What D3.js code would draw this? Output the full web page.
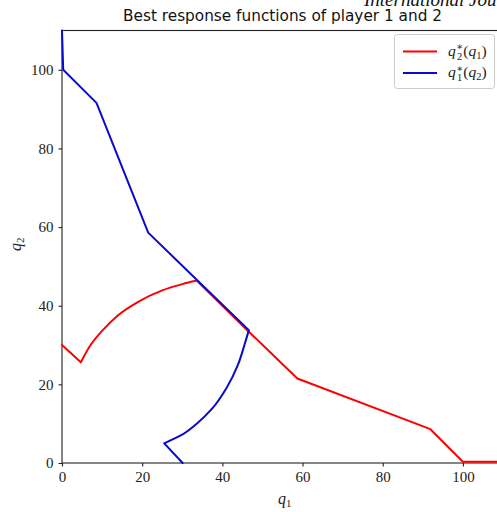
<!DOCTYPE html>
<html>
<head>
<meta charset="utf-8">
<script src="https://cdn.jsdelivr.net/npm/d3@7"></script>
<style>
  html, body { margin: 0; padding: 0; background: #fff; overflow: hidden; }
  svg { display: block; }
</style>
</head>
<body>
<div id="chart"></div>
<script>
// q2*(q1): best response of player 2
const redQ1 = [0, 4.7, 7.0, 10.0, 14.0, 19.0, 25.0, 30.0, 33.6, 46.6, 58.7, 91.9, 100.0, 110];
const redQ2 = [30, 25.6, 29.8, 33.6, 37.6, 41.0, 43.9, 45.5, 46.4, 33.4, 21.5, 8.6, 0.3, 0.3];
const redArc = [1, 8];   // indices of the curved stretch

// q1*(q2): best response of player 1
const blueQ1 = [30.1, 25.5, 29.6, 33.6, 37.6, 41.0, 43.9, 45.5, 46.6, 33.6, 21.5, 8.6, 0.3, 0];
const blueQ2 = [0, 5.0, 7.0, 10.0, 14.0, 19.0, 25.0, 30.0, 33.8, 46.6, 58.6, 91.6, 100.0, 110];
const blueArc = [1, 8];

const xTicks = [0, 20, 40, 60, 80, 100];
const yTicks = [0, 20, 40, 60, 80, 100];

const W = 497, H = 512;
const margin = { top: 30.5, left: 62, right: 0, bottom: 49 };
const plotW = 441, plotH = H - margin.top - margin.bottom;

const svg = d3.select("#chart").append("svg")
  .attr("width", W).attr("height", H);

const serif = "'Liberation Serif', 'DejaVu Serif', serif";
const axisColor = "#222";

// journal header peeking in from above
svg.append("text")
  .attr("x", 364).attr("y", 5.5)
  .attr("font-family", serif).attr("font-style", "italic").attr("font-size", 19)
  .attr("fill", "#111")
  .text("International Journal");

svg.append("text")
  .attr("x", margin.left + plotW / 2).attr("y", 20.5)
  .attr("text-anchor", "middle")
  .attr("font-family", "'DejaVu Sans', sans-serif").attr("font-size", 15.3)
  .attr("fill", "#111")
  .text("Best response functions of player 1 and 2");

const x = d3.scaleLinear().domain([0, 110]).range([0, plotW]);
const y = d3.scaleLinear().domain([0, 110]).range([plotH, 0]);

const g = svg.append("g").attr("transform", `translate(${margin.left},${margin.top})`);

g.append("defs").append("clipPath").attr("id", "plot-clip")
  .append("rect").attr("x", -2).attr("y", -2).attr("width", plotW + 4).attr("height", plotH + 4);

// frame
g.append("rect")
  .attr("width", plotW).attr("height", plotH)
  .attr("fill", "none").attr("stroke", axisColor).attr("stroke-width", 1.1);

const styleAxis = sel => {
  sel.select(".domain").remove();
  sel.selectAll(".tick line").attr("stroke", axisColor).attr("stroke-width", 1.1);
  sel.selectAll(".tick text")
    .attr("fill", "#222").attr("font-family", serif).attr("font-size", 15);
};

g.append("g").attr("transform", `translate(0,${plotH})`)
  .call(d3.axisBottom(x).tickValues(xTicks).tickSize(3.5).tickPadding(5))
  .call(styleAxis);

g.append("g")
  .call(d3.axisLeft(y).tickValues(yTicks).tickSize(3.5).tickPadding(5))
  .call(styleAxis);

// straight pieces joined by a smooth arc
function responsePath(qa, qb, arc, curve) {
  const pts = d3.zip(qa, qb);
  const p = d3.path();
  const lin = d3.line().x(d => x(d[0])).y(d => y(d[1])).context(p);
  const smooth = d3.line().x(d => x(d[0])).y(d => y(d[1])).curve(curve).context(p);
  lin(pts.slice(0, arc[0] + 1));
  smooth(pts.slice(arc[0], arc[1] + 1));
  lin(pts.slice(arc[1]));
  return p.toString();
}

const lines = g.append("g").attr("clip-path", "url(#plot-clip)");
lines.append("path")
  .attr("d", responsePath(redQ1, redQ2, redArc, d3.curveMonotoneX)).attr("fill", "none")
  .attr("stroke", "#ff0000").attr("stroke-width", 2)
  .attr("stroke-linejoin", "round").attr("stroke-linecap", "round");
lines.append("path")
  .attr("d", responsePath(blueQ1, blueQ2, blueArc, d3.curveMonotoneY)).attr("fill", "none")
  .attr("stroke", "#0a0acc").attr("stroke-width", 2)
  .attr("stroke-linejoin", "round").attr("stroke-linecap", "round");

// math-ish label helper: q with sub and optional star
function mathLabel(sel, sub, star, argSub) {
  sel.append("tspan").attr("font-style", "italic").text("q");
  if (star) {
    sel.append("tspan").attr("font-size", "0.65em").attr("dy", -5.5).attr("dx", 0.5).text("∗");
    sel.append("tspan").attr("font-size", "0.68em").attr("dy", 9.5).attr("dx", -6).text(sub);
  } else {
    sel.append("tspan").attr("font-size", "0.68em").attr("dy", 3).text(sub);
  }
  if (argSub) {
    sel.append("tspan").attr("dy", star ? -4 : -3).attr("dx", 1).text("(");
    sel.append("tspan").attr("font-style", "italic").text("q");
    sel.append("tspan").attr("font-size", "0.68em").attr("dy", 3).text(argSub);
    sel.append("tspan").attr("dy", -3).text(")");
  }
}

// axis labels
const xl = svg.append("text")
  .attr("x", 278).attr("y", 504)
  .attr("font-family", serif).attr("font-size", 16).attr("fill", "#222");
mathLabel(xl, "1", false, null);

const yl = svg.append("text")
  .attr("transform", "translate(21,251) rotate(-90)")
  .attr("font-family", serif).attr("font-size", 16).attr("fill", "#222");
mathLabel(yl, "2", false, null);

// legend
const legendItems = [
  { color: "#ff0000", sub: "2", arg: "1" },
  { color: "#0a0acc", sub: "1", arg: "2" }
];
const lg = svg.append("g");
lg.append("rect")
  .attr("x", 394.5).attr("y", 34.5).attr("width", 100).attr("height", 54).attr("rx", 3)
  .attr("fill", "#fff").attr("fill-opacity", 0.8)
  .attr("stroke", "#cccccc").attr("stroke-width", 1);
legendItems.forEach((d, i) => {
  const yy = 51.5 + i * 21.5;
  lg.append("line")
    .attr("x1", 403).attr("x2", 437).attr("y1", yy).attr("y2", yy)
    .attr("stroke", d.color).attr("stroke-width", 2);
  const t = lg.append("text")
    .attr("x", 448).attr("y", yy + 4)
    .attr("font-family", serif).attr("font-size", 15.5).attr("fill", "#222");
  mathLabel(t, d.sub, true, d.arg);
});
</script>
</body>
</html>
